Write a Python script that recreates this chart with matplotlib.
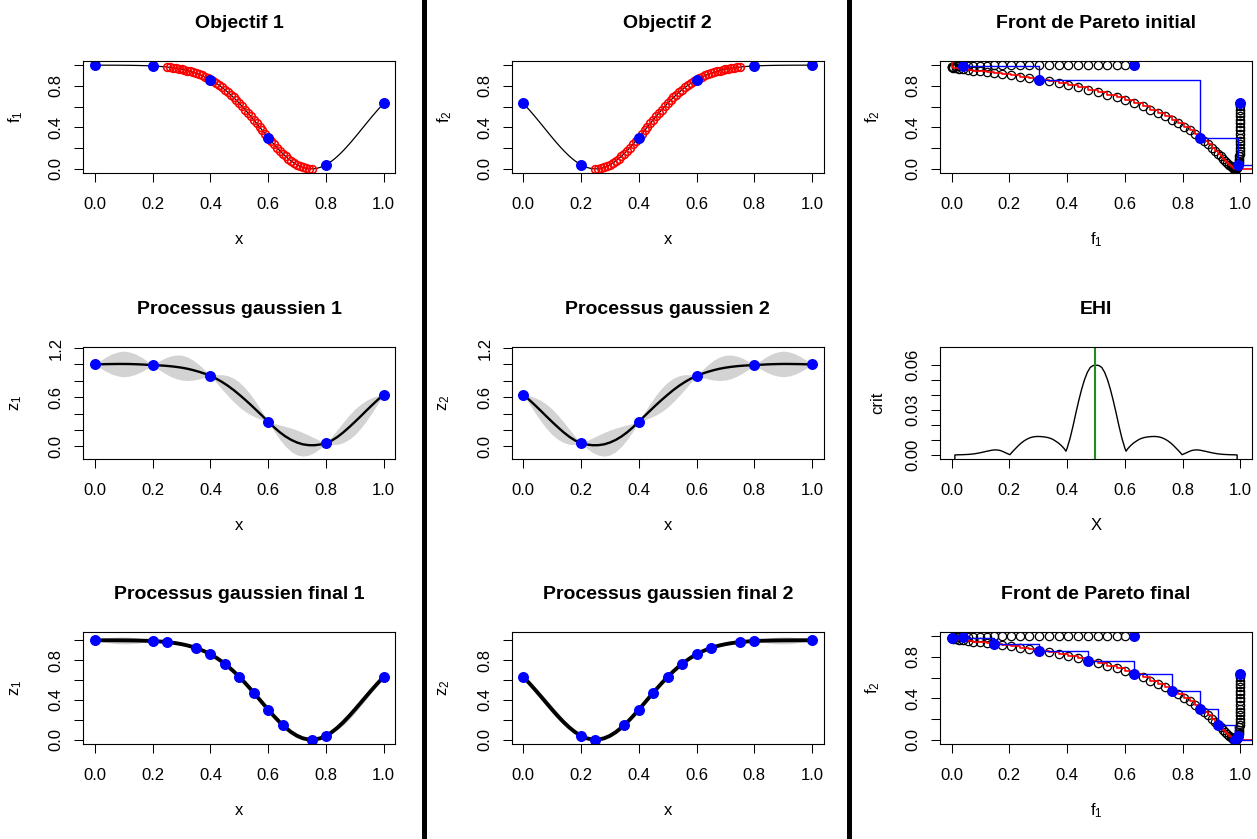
import numpy as np
import matplotlib
matplotlib.use("Agg")
import matplotlib.pyplot as plt
from matplotlib.lines import Line2D

plt.rcParams['font.family'] = ['Liberation Sans', 'DejaVu Sans']
plt.rcParams['mathtext.default'] = 'regular'

# ---------------- data ----------------
x_grid = np.round(np.arange(101) * 0.01, 2)          # x sampling of objective curves
x_gp = np.round(np.arange(51) * 0.02, 2)              # x sampling of GP curves

f1_vals = [0.9999, 0.9998, 0.9998, 0.9997, 0.9997, 0.9996, 0.9995, 0.9994, 0.9992, 0.9991,
           0.9988, 0.9986, 0.9983, 0.9979, 0.9974, 0.9969, 0.9962, 0.9954, 0.9945, 0.9934,
           0.9921, 0.9906, 0.9888, 0.9868, 0.9844, 0.9817, 0.9785, 0.9749, 0.9708, 0.9662,
           0.9608, 0.9549, 0.9481, 0.9405, 0.9321, 0.9227, 0.9123, 0.9007, 0.8881, 0.8743,
           0.8591, 0.8428, 0.8248, 0.8057, 0.7852, 0.7631, 0.7397, 0.7146, 0.6884, 0.6611,
           0.6321, 0.6021, 0.5710, 0.5390, 0.5062, 0.4727, 0.4388, 0.4045, 0.3703, 0.3361,
           0.3023, 0.2692, 0.2369, 0.2058, 0.1760, 0.1479, 0.1216, 0.0973, 0.0754, 0.0560,
           0.0392, 0.0253, 0.0143, 0.0064, 0.0016, 0.0000, 0.0016, 0.0064, 0.0143, 0.0253,
           0.0392, 0.0560, 0.0754, 0.0973, 0.1216, 0.1479, 0.1760, 0.2058, 0.2369, 0.2692,
           0.3023, 0.3361, 0.3703, 0.4045, 0.4388, 0.4727, 0.5062, 0.5390, 0.5710, 0.6021,
           0.6321]

f2_vals = [0.6321, 0.6021, 0.5710, 0.5390, 0.5062, 0.4727, 0.4388, 0.4045, 0.3703, 0.3361,
           0.3023, 0.2692, 0.2369, 0.2058, 0.1760, 0.1479, 0.1216, 0.0973, 0.0754, 0.0560,
           0.0392, 0.0253, 0.0143, 0.0064, 0.0016, 0.0000, 0.0016, 0.0064, 0.0143, 0.0253,
           0.0392, 0.0560, 0.0754, 0.0973, 0.1216, 0.1479, 0.1760, 0.2058, 0.2369, 0.2692,
           0.3023, 0.3361, 0.3703, 0.4045, 0.4388, 0.4727, 0.5062, 0.5390, 0.5710, 0.6021,
           0.6321, 0.6611, 0.6884, 0.7146, 0.7397, 0.7631, 0.7852, 0.8057, 0.8248, 0.8428,
           0.8591, 0.8743, 0.8881, 0.9007, 0.9123, 0.9227, 0.9321, 0.9405, 0.9481, 0.9549,
           0.9608, 0.9662, 0.9708, 0.9749, 0.9785, 0.9817, 0.9844, 0.9868, 0.9888, 0.9906,
           0.9921, 0.9934, 0.9945, 0.9954, 0.9962, 0.9969, 0.9974, 0.9979, 0.9983, 0.9986,
           0.9988, 0.9991, 0.9992, 0.9994, 0.9995, 0.9996, 0.9997, 0.9997, 0.9998, 0.9998,
           0.9999]

pareto_lo, pareto_hi = 25, 75   # indices of Pareto-optimal x (0.25 .. 0.75)

x_init = [0.0, 0.2, 0.4, 0.6, 0.8, 1.0]
y1_init = [0.9999, 0.9921, 0.8591, 0.3023, 0.0392, 0.6321]
y2_init = [0.6321, 0.0392, 0.3023, 0.8591, 0.9921, 0.9999]

x_final = [0.0, 0.2, 0.25, 0.35, 0.4, 0.45, 0.5, 0.55, 0.6, 0.65, 0.75, 0.8, 1.0]
y1_final = [0.9999, 0.9921, 0.9817, 0.9227, 0.8591, 0.7631, 0.6321, 0.4727, 0.3023, 0.1479, 0.0, 0.0392, 0.6321]
y2_final = [0.6321, 0.0392, 0.0, 0.1479, 0.3023, 0.4727, 0.6321, 0.7631, 0.8591, 0.9227, 0.9817, 0.9921, 0.9999]

gp1_mean = [1.000, 1.001, 1.003, 1.004, 1.005, 1.005, 1.004, 1.002, 0.999, 0.995,
            0.992, 0.988, 0.984, 0.978, 0.970, 0.960, 0.947, 0.930, 0.910, 0.887,
            0.859, 0.826, 0.786, 0.740, 0.688, 0.630, 0.569, 0.505, 0.438, 0.370,
            0.302, 0.233, 0.172, 0.120, 0.078, 0.046, 0.024, 0.014, 0.013, 0.022,
            0.039, 0.070, 0.115, 0.170, 0.232, 0.298, 0.366, 0.436, 0.504, 0.570,
            0.632]
gp1_hw = [0.0, 0.048, 0.091, 0.125, 0.147, 0.157, 0.147, 0.125, 0.091, 0.048,
          0.0, 0.047, 0.089, 0.122, 0.144, 0.152, 0.144, 0.122, 0.089, 0.047,
          0.0, 0.047, 0.089, 0.122, 0.144, 0.152, 0.144, 0.122, 0.089, 0.047,
          0.0, 0.047, 0.089, 0.122, 0.144, 0.152, 0.144, 0.122, 0.089, 0.047,
          0.0, 0.048, 0.091, 0.125, 0.147, 0.157, 0.147, 0.125, 0.091, 0.048,
          0.0]
gp2_mean = [0.632, 0.570, 0.504, 0.436, 0.366, 0.298, 0.232, 0.170, 0.115, 0.070,
            0.039, 0.022, 0.013, 0.014, 0.024, 0.046, 0.078, 0.120, 0.172, 0.233,
            0.302, 0.370, 0.438, 0.505, 0.569, 0.630, 0.688, 0.740, 0.786, 0.826,
            0.859, 0.887, 0.910, 0.930, 0.947, 0.960, 0.970, 0.978, 0.984, 0.988,
            0.992, 0.995, 0.999, 1.002, 1.004, 1.005, 1.005, 1.004, 1.003, 1.001,
            1.000]
gp2_hw = [0.0, 0.048, 0.091, 0.125, 0.147, 0.157, 0.147, 0.125, 0.091, 0.048,
          0.0, 0.047, 0.089, 0.122, 0.144, 0.152, 0.144, 0.122, 0.089, 0.047,
          0.0, 0.047, 0.089, 0.122, 0.144, 0.152, 0.144, 0.122, 0.089, 0.047,
          0.0, 0.047, 0.089, 0.122, 0.144, 0.152, 0.144, 0.122, 0.089, 0.047,
          0.0, 0.048, 0.091, 0.125, 0.147, 0.157, 0.147, 0.125, 0.091, 0.048,
          0.0]

gpf1_mean = [0.9999, 0.9998, 0.9997, 0.9995, 0.9992, 0.9988, 0.9983, 0.9974, 0.9962, 0.9945,
             0.9921, 0.9888, 0.9844, 0.9785, 0.9708, 0.9608, 0.9481, 0.9321, 0.9123, 0.8881,
             0.8591, 0.8248, 0.7852, 0.7397, 0.6884, 0.6321, 0.5710, 0.5062, 0.4388, 0.3703,
             0.3023, 0.2369, 0.1760, 0.1216, 0.0754, 0.0392, 0.0143, 0.0016, 0.0016, 0.0143,
             0.0392, 0.0754, 0.1216, 0.1760, 0.2369, 0.3023, 0.3703, 0.4388, 0.5062, 0.5710,
             0.6321]
gpf1_hw = [0.0, 0.011, 0.021, 0.029, 0.034, 0.035, 0.034, 0.029, 0.021, 0.011,
           0.0, 0.002, 0.001, 0.001, 0.003, 0.004, 0.003, 0.001, 0.001, 0.001,
           0.0, 0.001, 0.001, 0.001, 0.001, 0.0, 0.001, 0.001, 0.001, 0.001,
           0.0, 0.001, 0.001, 0.001, 0.003, 0.004, 0.003, 0.001, 0.001, 0.001,
           0.0, 0.011, 0.021, 0.029, 0.034, 0.035, 0.034, 0.029, 0.021, 0.011,
           0.0]
gpf2_mean = [0.6321, 0.5710, 0.5062, 0.4388, 0.3703, 0.3023, 0.2369, 0.1760, 0.1216, 0.0754,
             0.0392, 0.0143, 0.0016, 0.0016, 0.0143, 0.0392, 0.0754, 0.1216, 0.1760, 0.2369,
             0.3023, 0.3703, 0.4388, 0.5062, 0.5710, 0.6321, 0.6884, 0.7397, 0.7852, 0.8248,
             0.8591, 0.8881, 0.9123, 0.9321, 0.9481, 0.9608, 0.9708, 0.9785, 0.9844, 0.9888,
             0.9921, 0.9945, 0.9962, 0.9974, 0.9983, 0.9988, 0.9992, 0.9995, 0.9997, 0.9998,
             0.9999]
gpf2_hw = [0.0, 0.011, 0.021, 0.029, 0.034, 0.035, 0.034, 0.029, 0.021, 0.011,
           0.0, 0.001, 0.001, 0.001, 0.003, 0.004, 0.003, 0.001, 0.001, 0.001,
           0.0, 0.001, 0.001, 0.001, 0.001, 0.0, 0.001, 0.001, 0.001, 0.001,
           0.0, 0.001, 0.001, 0.001, 0.003, 0.004, 0.003, 0.001, 0.001, 0.002,
           0.0, 0.011, 0.021, 0.029, 0.034, 0.035, 0.034, 0.029, 0.021, 0.011,
           0.0]

ehi_x = [0.0115, 0.0115, 0.02, 0.04, 0.06, 0.08, 0.10, 0.12, 0.14, 0.15, 0.16, 0.17, 0.18, 0.19, 0.202,
         0.21, 0.22, 0.23, 0.24, 0.25, 0.26, 0.27, 0.28, 0.29, 0.30, 0.31, 0.32, 0.33, 0.34,
         0.35, 0.36, 0.37, 0.38, 0.39, 0.396,
         0.40, 0.41, 0.42, 0.43, 0.44, 0.45, 0.46, 0.47, 0.48, 0.49, 0.50,
         0.51, 0.52, 0.53, 0.54, 0.55, 0.56, 0.57, 0.58, 0.59, 0.60,
         0.604, 0.61, 0.62, 0.63, 0.64, 0.65, 0.66, 0.67, 0.68, 0.69, 0.70,
         0.71, 0.72, 0.73, 0.74, 0.75, 0.76, 0.77, 0.78, 0.79, 0.798,
         0.81, 0.82, 0.83, 0.84, 0.85, 0.86, 0.88, 0.90, 0.92, 0.94, 0.96, 0.98, 0.9885, 0.9885]
ehi_y = [-0.01, 0.0, 0.0001, 0.0002, 0.0004, 0.0008, 0.0015, 0.0024, 0.0032, 0.0034, 0.0033, 0.0029, 0.0021, 0.0012, 0.0002,
         0.0020, 0.0040, 0.0060, 0.0078, 0.0093, 0.0105, 0.0114, 0.0120, 0.0123, 0.0124, 0.0123, 0.0121, 0.0118, 0.0113,
         0.0105, 0.0093, 0.0080, 0.0063, 0.0042, 0.0025,
         0.0045, 0.0110, 0.0190, 0.0278, 0.0362, 0.0438, 0.0503, 0.0553, 0.0586, 0.0599, 0.0601,
         0.0599, 0.0586, 0.0553, 0.0503, 0.0438, 0.0362, 0.0278, 0.0190, 0.0110, 0.0045,
         0.0025, 0.0042, 0.0063, 0.0080, 0.0093, 0.0105, 0.0113, 0.0118, 0.0121, 0.0123, 0.0124,
         0.0123, 0.0120, 0.0114, 0.0105, 0.0093, 0.0078, 0.0060, 0.0040, 0.0020, 0.0002,
         0.0012, 0.0021, 0.0029, 0.0033, 0.0034, 0.0032, 0.0024, 0.0015, 0.0008, 0.0004, 0.0002, 0.0001, 0.0, -0.01]
ehi_best_x = 0.495

# ---------------- layout ----------------
W, H = 1257, 839
fig = plt.figure(figsize=(W / 100, H / 100), dpi=100)
fig.patch.set_facecolor('white')

col_left = [83.3, 511.7, 940.0]
row_top = [61.0, 347.0, 632.0]
AW, AH = 312.0, 112.0

BLUE = '#0000FF'
RED = '#FF0000'
GREY = '#D3D3D3'
GREEN = '#228B22'
TICK_FS = 12
LAB_FS = 12
TITLE_FS = 14

def make_ax(r, c):
    l = col_left[c]; t = row_top[r]
    return fig.add_axes([l / W, 1 - (t + AH) / H, AW / W, AH / H])

def style(ax, title, xlabel, ylabel, ylim, yticks, ylabels, ylab_x=-0.216):
    ax.set_xlim(-0.04, 1.04)
    ax.set_ylim(*ylim)
    ax.set_xticks([0, 0.2, 0.4, 0.6, 0.8, 1.0])
    ax.set_xticklabels(['0.0', '0.2', '0.4', '0.6', '0.8', '1.0'])
    ax.set_yticks(yticks)
    ax.set_yticklabels(ylabels, rotation=90, va='center')
    ax.tick_params(axis='both', direction='out', length=6.5, width=0.75,
                   labelsize=TICK_FS, colors='black')
    ax.tick_params(axis='x', pad=11)
    ax.tick_params(axis='y', pad=7.5)
    for s in ax.spines.values():
        s.set_linewidth(0.8)
        s.set_color('black')
    ax.set_title(title, fontsize=TITLE_FS, fontweight='bold', pad=23.8)
    ax.set_xlabel(xlabel, fontsize=LAB_FS, va='baseline')
    ax.xaxis.set_label_coords(0.5, -71.3 / AH)
    ax.set_ylabel(ylabel, fontsize=LAB_FS, va='center', ha='center')
    ax.yaxis.set_label_coords(ylab_x, 0.5)

ticks01 = [0, 0.2, 0.4, 0.6, 0.8, 1.0]
labs01 = ['0.0', '', '0.4', '', '0.8', '']
lim01 = (-0.04, 1.04)

f1a = np.array(f1_vals); f2a = np.array(f2_vals)
px = x_grid[pareto_lo:pareto_hi + 1]

# ---- Objectif 1 ----
ax = make_ax(0, 0)
ax.plot(x_grid, f1a, color='black', lw=0.9)
ax.plot(px, f1a[pareto_lo:pareto_hi + 1], 'o', mfc='none', mec=RED, ms=5.6, mew=1.15)
ax.plot(x_init, y1_init, 'o', color=BLUE, ms=6.9)
style(ax, 'Objectif 1', 'x', r'$f_1$', lim01, ticks01, labs01)

# ---- Objectif 2 ----
ax = make_ax(0, 1)
ax.plot(x_grid, f2a, color='black', lw=0.9)
ax.plot(px, f2a[pareto_lo:pareto_hi + 1], 'o', mfc='none', mec=RED, ms=5.6, mew=1.15)
ax.plot(x_init, y2_init, 'o', color=BLUE, ms=6.9)
style(ax, 'Objectif 2', 'x', r'$f_2$', lim01, ticks01, labs01)

# ---- Pareto fronts ----
def pareto_panel(ax, dx1, dx2, title):
    ax.plot(f1a, f2a, 'o', mfc='none', mec='black', ms=6.0, mew=0.9)
    pf1 = f1a[pareto_lo:pareto_hi + 1]; pf2 = f2a[pareto_lo:pareto_hi + 1]
    o = np.argsort(pf1)
    rx = np.concatenate([[pf1[o][0]], pf1[o], [2.0]])
    ry = np.concatenate([[2.0], pf2[o], [pf2[o][-1]]])
    ax.plot(rx, ry, color=RED, lw=1.2, drawstyle='steps-post')
    d1 = np.array(dx1); d2 = np.array(dx2)
    nd = [i for i in range(len(d1))
          if not np.any((d1 <= d1[i]) & (d2 <= d2[i]) & ((d1 < d1[i]) | (d2 < d2[i])))]
    n1 = d1[nd]; n2 = d2[nd]; o = np.argsort(n1)
    bx = np.concatenate([[n1[o][0]], n1[o], [2.0]])
    by = np.concatenate([[2.0], n2[o], [n2[o][-1]]])
    ax.plot(bx, by, color=BLUE, lw=1.0, drawstyle='steps-post')
    ax.plot(d1, d2, 'o', color=BLUE, ms=6.9)
    style(ax, title, r'$f_1$', r'$f_2$', lim01, ticks01, labs01, ylab_x=-0.215)

pareto_panel(make_ax(0, 2), y1_init, y2_init, 'Front de Pareto initial')
pareto_panel(make_ax(2, 2), y1_final, y2_final, 'Front de Pareto final')

# ---- GP panels ----
def gp_panel(ax, mean, hw, dx, dy, title, ylabel, lw, ylim, yticks, ylabels):
    m = np.array(mean); h = np.array(hw)
    ax.fill_between(x_gp, m - h, m + h, color=GREY, lw=0)
    ax.plot(x_gp, m, color='black', lw=lw, solid_capstyle='butt')
    ax.plot(dx, dy, 'o', color=BLUE, ms=6.9)
    style(ax, title, 'x', ylabel, ylim, yticks, ylabels)

gp_ticks = [0, 0.2, 0.4, 0.6, 0.8, 1.0, 1.2]
gp_labs = ['0.0', '', '', '0.6', '', '', '1.2']
gp_panel(make_ax(1, 0), gp1_mean, gp1_hw, x_init, y1_init, 'Processus gaussien 1', r'$z_1$',
         1.7, (-0.155, 1.212), gp_ticks, gp_labs)
gp_panel(make_ax(1, 1), gp2_mean, gp2_hw, x_init, y2_init, 'Processus gaussien 2', r'$z_2$',
         1.7, (-0.155, 1.212), gp_ticks, gp_labs)
gp_panel(make_ax(2, 0), gpf1_mean, gpf1_hw, x_final, y1_final, 'Processus gaussien final 1', r'$z_1$',
         2.8, (-0.043, 1.083), ticks01, labs01)
gp_panel(make_ax(2, 1), gpf2_mean, gpf2_hw, x_final, y2_final, 'Processus gaussien final 2', r'$z_2$',
         2.8, (-0.043, 1.083), ticks01, labs01)

# ---- EHI ----
ax = make_ax(1, 2)
ax.plot(ehi_x, ehi_y, color='black', lw=1.0)
ax.axvline(ehi_best_x, color=GREEN, lw=1.5)
style(ax, 'EHI', 'X', 'crit', (-0.0027, 0.0723),
      [0, 0.01, 0.02, 0.03, 0.04, 0.05, 0.06],
      ['0.00', '', '', '0.03', '', '', '0.06'], ylab_x=-0.20)

# ---- separators ----
for xs in (424.0, 849.0):
    fig.add_artist(Line2D([xs / W, xs / W], [0, 1], transform=fig.transFigure,
                          color='black', lw=3.6))

fig.savefig('out.png', dpi=100, facecolor='white')
